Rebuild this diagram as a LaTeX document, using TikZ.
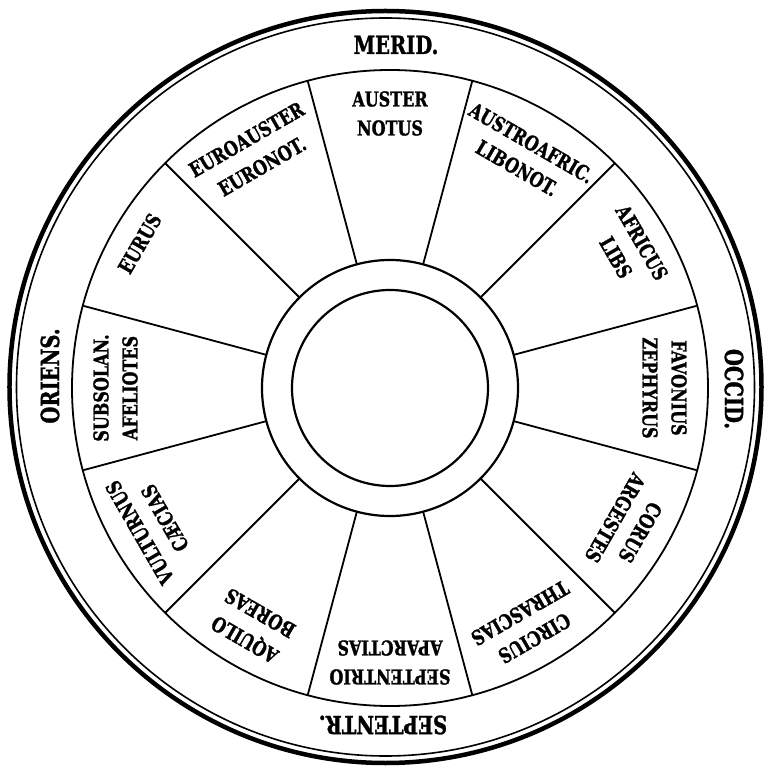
\documentclass[tikz,border=0pt]{standalone}
\usepackage{fontspec}
\setmainfont{DejaVu Serif}[FakeStretch=0.78, BoldFeatures={FakeBold=1.2}]
\begin{document}
\begin{tikzpicture}[x=1pt,y=1pt,
  ringline/.style={line width=1.8pt},
  wind/.style={font=\bfseries\fontsize{20.5}{20.5}\selectfont, inner sep=0pt},
  cardinal/.style={font=\bfseries\fontsize{25}{25}\selectfont, inner sep=0pt}]
\useasboundingbox (-390,-380) rectangle (377,388);
\coordinate (O) at (0,0);
\coordinate (Oo) at (-4.5,1);
% outer rim
\draw[line width=4.5pt] (Oo) circle (376);
\draw[line width=1.6pt] (Oo) circle (369);
% sector ring
\draw[ringline] (O) circle (318);
% inner circles
\draw[line width=2.2pt] (O) circle (128);
\draw[line width=2.2pt] (O) circle (98);
% radial dividers
\foreach \a in {15,45,...,345} \draw[ringline] (\a:128) -- (\a:318);
% cardinal labels
\node[cardinal] (merid) at (6,343) {MERID.};
\node[cardinal, rotate=-90] (occid) at (344,-1) {OCCID.};
\node[cardinal, rotate=180] (septentr) at (-7,-337) {SEPTENTR.};
\node[cardinal, rotate=90] (oriens) at (-340,12) {ORIENS.};
% winds
\node[wind, rotate=0] (w90a) at (90:289) {AUSTER};
\node[wind, rotate=0] (w90b) at (90:260) {NOTUS};
\node[wind, rotate=30] (w120a) at (120:287) {EUROAUSTER};
\node[wind, rotate=30] (w120b) at (120:256) {EURONOT.};
\node[wind, rotate=60] (w150a) at (150:289) {EURUS};
\node[wind, rotate=90] (w180a) at (180:289) {SUBSOLAN.};
\node[wind, rotate=90] (w180b) at (180:260) {AFELIOTES};
\node[wind, rotate=120] (w210a) at (210:289) {VULTURNUS};
\node[wind, rotate=120] (w210b) at (210:260) {CÆCIAS};
\node[wind, rotate=150] (w240a) at (240:289) {AQUILO};
\node[wind, rotate=150] (w240b) at (240:260) {BOREAS};
\node[wind, rotate=180] (w270a) at (270:289) {SEPTENTRIO};
\node[wind, rotate=180] (w270b) at (270:260) {APARCTIAS};
\node[wind, rotate=210] (w300a) at (300:289) {CIRCIUS};
\node[wind, rotate=210] (w300b) at (300:260) {THRASCIAS};
\node[wind, rotate=240] (w330a) at (330:289) {CORUS};
\node[wind, rotate=240] (w330b) at (330:260) {ARGESTES};
\node[wind, rotate=-90] (w0a) at (0:289) {FAVONIUS};
\node[wind, rotate=-90] (w0b) at (0:260) {ZEPHYRUS};
\node[wind, rotate=-60] (w30a) at (30:291) {AFRICUS};
\node[wind, rotate=-60] (w30b) at (30:261) {LIBS};
\node[wind, rotate=-30] (w60a) at (60:283) {AUSTROAFRIC.};
\node[wind, rotate=-30] (w60b) at (60:254) {LIBONOT.};
\end{tikzpicture}
\end{document}
